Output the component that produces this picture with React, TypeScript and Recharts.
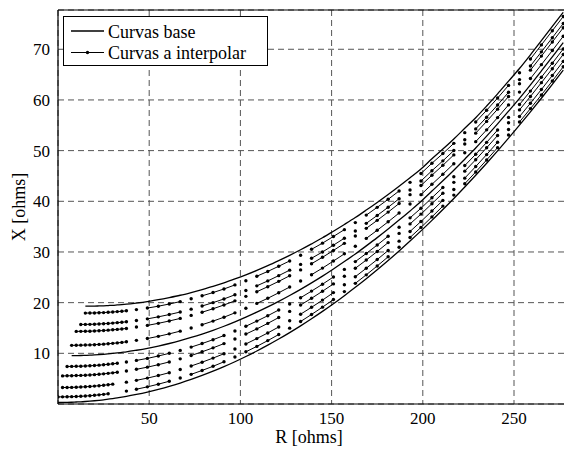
import React from 'react';
import { LineChart, Line, XAxis, YAxis, CartesianGrid, ReferenceLine } from 'recharts';

// Shared R [ohms] sampling grid
const R_GRID = [0, 2.5, 5, 7.5, 10, 12.5, 15, 17.5, 20, 22.5, 25, 27.5, 30, 32.5, 35, 37.5,
  43, 49, 55, 61, 67, 73, 79, 85, 91, 97, 103, 109, 115, 121, 127, 133, 139, 145, 151, 157,
  163, 169, 175, 181, 187, 193, 199, 205, 211, 217, 223, 229, 235, 241, 247, 253, 259, 265, 271, 277];

// R values before which the interpolated curves' connecting line is interrupted
const BREAKS_UPPER = [43, 49, 73, 79, 103, 109, 133, 139, 163, 169, 193, 199, 223, 229, 253, 259];
const BREAKS_LOWER = [37.5, 43, 67, 73, 97, 103, 127, 133, 157, 163, 187, 193, 217, 223, 247, 253];

const X_TICKS = [50, 100, 150, 200, 250];
const Y_TICKS = [10, 20, 30, 40, 50, 60, 70];

// Curvas base (X [ohms] at each R of R_GRID)
const BASE_TOP = [null, null, null, null, null, null, 19.3, 19.3, 19.32, 19.35, 19.38, 19.43, 19.48, 19.55, 19.62, 19.7,
  19.93, 20.22, 20.58, 21.0, 21.46, 22.0, 22.58, 23.2, 23.9, 24.68, 25.5, 26.37, 27.3, 28.3, 29.34, 30.44, 31.6, 32.8, 34.1, 35.43,
  36.8, 38.27, 39.78, 41.34, 42.97, 44.65, 46.38, 48.4, 50.3, 52.3, 54.4, 56.5, 58.8, 61.2, 63.7, 66.2, 68.9, 71.7, 74.5, 77.3];
const BASE_MID = [null, null, null, 9.53, 9.55, 9.57, 9.6, 9.63, 9.68, 9.74, 9.81, 9.89, 9.98, 10.08, 10.19, 10.3,
  10.61, 10.99, 11.44, 11.94, 12.5, 13.13, 13.81, 14.54, 15.34, 16.21, 17.14, 18.12, 19.16, 20.26, 21.42, 22.63, 23.91, 25.24, 26.65, 28.11,
  29.61, 31.2, 32.83, 34.53, 36.29, 38.1, 39.97, 42.02, 44.04, 46.13, 48.31, 50.52, 52.86, 55.28, 57.78, 60.32, 62.98, 65.72, 68.5, 71.3];
const BASE_BOT = [0.3, 0.31, 0.32, 0.35, 0.39, 0.43, 0.49, 0.56, 0.64, 0.73, 0.83, 0.95, 1.07, 1.2, 1.35, 1.5,
  1.88, 2.35, 2.89, 3.48, 4.14, 4.86, 5.64, 6.48, 7.38, 8.34, 9.37, 10.46, 11.61, 12.82, 14.09, 15.42, 16.82, 18.28, 19.79, 21.38,
  23.02, 24.72, 26.48, 28.31, 30.2, 32.15, 34.16, 36.23, 38.37, 40.56, 42.82, 45.14, 47.52, 49.96, 52.46, 55.03, 57.65, 60.34, 63.09, 65.9];

// Curvas a interpolar
const INT_1 = [null, null, null, null, null, null, 17.94, 17.95, 17.97, 18.01, 18.04, 18.1, 18.15, 18.23, 18.3, 18.39,
  18.63, 18.93, 19.3, 19.73, 20.21, 20.76, 21.35, 21.99, 22.7, 23.5, 24.33, 25.22, 26.16, 27.18, 28.23, 29.35, 30.53, 31.74, 33.06, 34.41,
  35.8, 37.28, 38.81, 40.39, 42.04, 43.74, 45.48, 47.51, 49.42, 51.44, 53.55, 55.66, 57.97, 60.37, 62.87, 65.38, 68.07, 70.86, 73.66, 76.46];
const INT_2 = [null, null, null, null, null, 15.7, 15.71, 15.72, 15.75, 15.8, 15.84, 15.9, 15.96, 16.05, 16.13, 16.22,
  16.48, 16.8, 17.2, 17.65, 18.15, 18.72, 19.34, 20.0, 20.73, 21.55, 22.41, 23.32, 24.29, 25.33, 26.41, 27.55, 28.76, 30.0, 31.34, 32.72,
  34.14, 35.65, 37.21, 38.82, 40.5, 42.23, 44.01, 46.04, 47.98, 50.02, 52.15, 54.29, 56.6, 59.01, 61.51, 64.02, 66.71, 69.49, 72.28, 75.08];
const INT_3 = [null, null, null, null, 14.33, 14.34, 14.35, 14.37, 14.41, 14.45, 14.5, 14.57, 14.64, 14.72, 14.81, 14.91,
  15.18, 15.51, 15.92, 16.38, 16.89, 17.48, 18.11, 18.79, 19.54, 20.36, 21.24, 22.16, 23.15, 24.2, 25.3, 26.46, 27.68, 28.95, 30.3, 31.7,
  33.14, 34.66, 36.24, 37.87, 39.56, 41.31, 43.11, 45.15, 47.11, 49.16, 51.3, 53.45, 55.77, 58.18, 60.68, 63.2, 65.88, 68.65, 71.44, 74.24];
const INT_4 = [null, null, null, 11.57, 11.59, 11.61, 11.63, 11.66, 11.7, 11.76, 11.81, 11.89, 11.97, 12.06, 12.16, 12.27,
  12.56, 12.92, 13.35, 13.84, 14.38, 14.99, 15.65, 16.36, 17.13, 17.99, 18.89, 19.85, 20.86, 21.95, 23.08, 24.27, 25.52, 26.82, 28.21, 29.64,
  31.12, 32.68, 34.29, 35.95, 37.69, 39.47, 41.31, 43.35, 45.35, 47.42, 49.59, 51.77, 54.1, 56.52, 59.02, 61.55, 64.22, 66.97, 69.75, 72.56];
const INT_5 = [null, null, 7.4, 7.42, 7.44, 7.46, 7.5, 7.54, 7.6, 7.67, 7.74, 7.83, 7.93, 8.03, null, 8.28,
  8.6, 9.0, 9.47, 10.0, 10.58, 11.23, 11.93, 12.69, 13.51, 14.4, 15.35, 16.36, 17.42, 18.55, 19.73, 20.97, 22.28, 23.64, 25.07, 26.56,
  28.1, 29.71, 31.37, 33.1, 34.89, 36.73, 38.63, 40.69, 42.73, 44.85, 47.05, 49.28, 51.63, 54.06, 56.56, 59.1, 61.75, 64.48, 67.25, 70.06];
const INT_6 = [null, 5.55, 5.56, 5.58, 5.61, 5.64, 5.68, 5.73, 5.79, 5.87, 5.95, 6.05, 6.15, 6.26, null, 6.52,
  6.85, 7.27, 7.76, 8.3, 8.91, 9.57, 10.3, 11.08, 11.92, 12.83, 13.8, 14.82, 15.91, 17.06, 18.27, 19.53, 20.86, 22.25, 23.7, 25.21,
  26.78, 28.41, 30.1, 31.85, 33.67, 35.54, 37.47, 39.53, 41.6, 43.74, 45.95, 48.21, 50.56, 52.99, 55.49, 58.04, 60.69, 63.41, 66.17, 68.98];
const INT_7 = [null, 3.25, 3.26, 3.28, 3.32, 3.35, 3.4, 3.46, 3.53, 3.61, 3.7, 3.81, 3.92, null, null, 4.31,
  4.67, 5.11, 5.62, 6.18, 6.81, 7.5, 8.25, 9.06, 9.92, 10.85, 11.85, 12.91, 14.02, 15.2, 16.43, 17.72, 19.08, 20.5, 21.98, 23.53,
  25.12, 26.79, 28.51, 30.29, 32.14, 34.05, 36.02, 38.08, 40.18, 42.34, 44.57, 46.86, 49.22, 51.66, 54.16, 56.72, 59.35, 62.06, 64.82, 67.62];
const INT_8 = [1.4, 1.41, 1.42, 1.45, 1.48, 1.52, 1.58, 1.64, 1.72, 1.81, 1.9, 2.02, null, null, null, 2.55,
  2.92, 3.38, 3.91, 4.49, 5.14, 5.85, 6.62, 7.44, 8.33, 9.28, 10.3, 11.37, 12.51, 13.71, 14.97, 16.28, 17.67, 19.11, 20.61, 22.18,
  23.81, 25.49, 27.24, 29.05, 30.93, 32.86, 34.85, 36.92, 39.05, 41.22, 43.47, 45.78, 48.16, 50.59, 53.09, 55.66, 58.29, 60.98, 63.73, 66.54];

const BASE_SERIES = [BASE_TOP, BASE_MID, BASE_BOT];
const INTERP_SERIES = [
  { ys: INT_1, breaks: BREAKS_UPPER },
  { ys: INT_2, breaks: BREAKS_UPPER },
  { ys: INT_3, breaks: BREAKS_UPPER },
  { ys: INT_4, breaks: BREAKS_UPPER },
  { ys: INT_5, breaks: BREAKS_LOWER },
  { ys: INT_6, breaks: BREAKS_LOWER },
  { ys: INT_7, breaks: BREAKS_LOWER },
  { ys: INT_8, breaks: BREAKS_LOWER },
];

const toPoints = (ys: (number | null)[]) =>
  R_GRID.map((r, i) => ({ r, x: ys[i] })).filter((p) => p.x !== null);

// same points, with a null entry inserted wherever the plotted line is interrupted
const toBrokenPoints = (ys: (number | null)[], breaks: number[]) => {
  const out: { r: number; x: number | null }[] = [];
  R_GRID.forEach((r, i) => {
    if (ys[i] === null) {
      out.push({ r, x: null });
      return;
    }
    if (breaks.includes(r) && i > 0) out.push({ r: (R_GRID[i - 1] + r) / 2, x: null });
    out.push({ r, x: ys[i] });
  });
  return out.filter((p, i) => !(p.x === null && (i === 0 || out[i - 1].x === null)));
};

const FONT = "'Liberation Serif', 'Times New Roman', serif";

const XLabel = () => (
  <text x={309} y={443} textAnchor="middle" style={{ fontFamily: FONT, fontSize: 18 }} fill="#000">R [ohms]</text>
);
const YLabel = () => (
  <text x={0} y={0} transform="translate(25,207) rotate(-90)" textAnchor="middle" style={{ fontFamily: FONT, fontSize: 18 }} fill="#000">X [ohms]</text>
);

export default function App() {
  return (
    <div style={{ position: 'absolute', left: 0, top: 0, width: 564, height: 449, overflow: 'hidden', background: '#fff', fontFamily: FONT }}>
      <style>{`svg text, .recharts-text { font-family: 'Liberation Serif', 'Times New Roman', serif !important; }`}</style>
      <LineChart width={570} height={449} margin={{ top: 10, right: 4, bottom: 0, left: 1 }} style={{ fontFamily: FONT }}>
        <CartesianGrid stroke="#555" strokeDasharray="6 4" />
        <XAxis
          type="number"
          dataKey="r"
          domain={[0, 278.5]}
          ticks={X_TICKS}
          allowDataOverflow
          height={45}
          tickLine={false}
          axisLine={{ stroke: '#000', strokeWidth: 1.2 }}
          tick={{ fill: '#000', fontSize: 17, fontFamily: FONT }}
          label={<XLabel />}
        />
        <YAxis
          type="number"
          dataKey="x"
          domain={[0, 77.75]}
          ticks={Y_TICKS}
          allowDataOverflow
          width={57}
          tickLine={false}
          axisLine={{ stroke: '#000', strokeWidth: 1.2 }}
          tick={{ fill: '#000', fontSize: 17, fontFamily: FONT }}
          label={<YLabel />}
        />
        <ReferenceLine y={77.75} stroke="#000" strokeWidth={1.2} />
        {BASE_SERIES.map((s, i) => (
          <Line
            key={'b' + i}
            data={toPoints(s)}
            dataKey="x"
            type="monotone"
            stroke="#000"
            strokeWidth={1.3}
            dot={false}
            activeDot={false}
            isAnimationActive={false}
          />
        ))}
        {INTERP_SERIES.map((s, i) => (
          <Line
            key={'i' + i}
            data={toBrokenPoints(s.ys, s.breaks)}
            dataKey="x"
            type="linear"
            connectNulls={false}
            stroke="#000"
            strokeWidth={1}
            dot={{ r: 1.7, fill: '#000', stroke: 'none' }}
            activeDot={false}
            isAnimationActive={false}
          />
        ))}
      </LineChart>
      <div style={{ position: 'absolute', left: 63, top: 16, width: 205, height: 50, border: '1px solid #000', background: '#fff', boxSizing: 'border-box' }}>
        <svg width={205} height={50} style={{ position: 'absolute', left: -1, top: -1 }}>
          <line x1={8} y1={15} x2={41} y2={15} stroke="#000" strokeWidth={1.3} />
          <text x={45} y={21.5} style={{ fontFamily: FONT, fontSize: 18 }} fill="#000">Curvas base</text>
          <line x1={8} y1={36.5} x2={41} y2={36.5} stroke="#000" strokeWidth={1} />
          <circle cx={24.5} cy={36.5} r={1.7} fill="#000" />
          <text x={45} y={43} style={{ fontFamily: FONT, fontSize: 18 }} fill="#000">Curvas a interpolar</text>
        </svg>
      </div>
    </div>
  );
}
